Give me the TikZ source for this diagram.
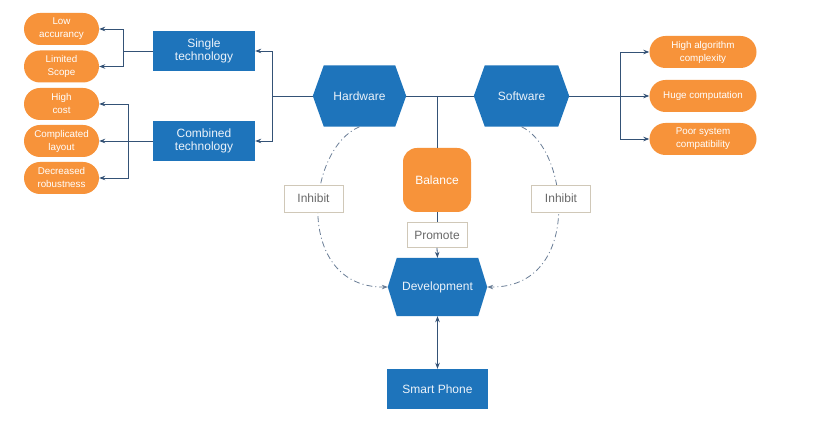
\documentclass[tikz,border=0pt]{standalone}
\usepackage{fontspec}
\setmainfont{Liberation Sans}
\usetikzlibrary{arrows.meta,shapes.misc,backgrounds}
\definecolor{bluebox}{RGB}{30,116,187}
\definecolor{orangebox}{RGB}{247,147,58}
\definecolor{conn}{RGB}{52,82,118}
\definecolor{dashc}{RGB}{105,125,150}
\definecolor{labbord}{RGB}{208,200,184}
\definecolor{labtext}{RGB}{105,105,105}
\definecolor{bluetext}{RGB}{236,243,250}
\newcommand{\hexfill}[2]{%
  \fill[bluebox] (#1.west) -- ([xshift=#2]#1.north west) -- ([xshift=-#2]#1.north east) -- (#1.east) -- ([xshift=-#2]#1.south east) -- ([xshift=#2]#1.south west) -- cycle;}
\tikzset{
  pill/.style={rounded rectangle, fill=orangebox, text=white, minimum width=77pt, minimum height=32pt, inner sep=1pt, align=center, font=\fontsize{9.8}{13}\selectfont},
  rpill/.style={pill, minimum width=109pt},
  bbox/.style={rectangle, fill=bluebox, text=bluetext, minimum width=102pt, minimum height=40pt, inner sep=1pt, align=center, font=\fontsize{12}{13.5}\selectfont},
  hexnode/.style={rectangle, text=bluetext, inner sep=0pt, align=center, font=\fontsize{12}{13.5}\selectfont},
  lab/.style={rectangle, draw=labbord, line width=0.9pt, fill=white, text=labtext, inner sep=1pt, font=\fontsize{12}{13.5}\selectfont},
  line/.style={draw=conn, line width=0.8pt},
  arr/.style={line, -{Stealth[length=6pt,width=4.5pt]}},
  darr/.style={line, {Stealth[length=6pt,width=4.5pt]}-{Stealth[length=6pt,width=4.5pt]}},
  dasharr/.style={draw=dashc, line width=0.8pt, dash pattern=on 6pt off 3pt on 1pt off 3pt, -{Stealth[length=6pt,width=4.5pt]}}
}
\begin{document}
\begin{tikzpicture}[x=1pt,y=-1pt]
\begin{scope}[on background layer]
\fill[white] (0,0) rectangle (831,427);
\end{scope}
\useasboundingbox (0,0) rectangle (831,427);
% left pills
\node[pill] (low) at (61.5,29) {Low\\accurancy};
\node[pill] (limited) at (61.5,66.5) {Limited\\Scope};
\node[pill] (cost) at (61.5,104) {High\\cost};
\node[pill] (layout) at (61.5,141) {Complicated\\layout};
\node[pill] (robust) at (61.5,178) {Decreased\\robustness};
% blue boxes
\node[bbox] (single) at (204,51) {Single\\technology};
\node[bbox] (combined) at (204,141) {Combined\\technology};
% hexagons
\node[hexnode, minimum width=93pt, minimum height=61pt] (hw) at (359.5,96) {Hardware};
\node[hexnode, minimum width=95pt, minimum height=61pt] (sw) at (521.5,96) {Software};
\node[hexnode, minimum width=99pt, minimum height=58pt] (dev) at (437.5,287) {Development};
\begin{scope}[on background layer]
\hexfill{hw}{11pt}
\hexfill{sw}{11pt}
\hexfill{dev}{9pt}
\end{scope}
% balance
\node[rectangle, rounded corners=14pt, fill=orangebox, text=white, minimum width=68pt, minimum height=64pt, font=\fontsize{12}{13.5}\selectfont] (bal) at (437,180) {Balance};
% smart phone
\node[bbox, minimum width=101pt] (phone) at (437.5,389) {Smart Phone};
% right pills
\node[rpill] (alg) at (703,52) {High algorithm\\complexity};
\node[rpill] (huge) at (703,96) {Huge computation};
\node[rpill] (poor) at (703,139) {Poor system\\compatibility};
% connectors left
\draw[line] (hw.west) -- ++(-40,0) coordinate (hj);
\draw[arr] (hj) |- (single.east);
\draw[arr] (hj) |- (combined.east);
\draw[line] (single.west) -- ++(-29,0) coordinate (sj);
\draw[arr] (sj) |- (low.east);
\draw[arr] (sj) |- (limited.east);
\draw[arr] (combined.west) -- (layout.east);
\coordinate (cj) at (128,141);
\draw[arr] (cj) |- (cost.east);
\draw[arr] (cj) |- (robust.east);
% centre
\draw[line] (hw.east) -- (sw.west);
\coordinate (mj) at (437,96);
\draw[line] (mj) -- (bal.north);
% right
\draw[arr] (sw.east) -- (huge.west);
\coordinate (rj) at (620,96);
\draw[arr] (rj) |- (alg.west);
\draw[arr] (rj) |- (poor.west);
% inhibit arcs
\draw[dasharr] (hw.south) .. controls (305,150) and (295,288) .. (dev.west);
\draw[dasharr] (sw.south) .. controls (570,150) and (582,288) .. (dev.east);
\node[lab, minimum width=59pt, minimum height=27pt] (inh1) at (313.5,198.5) {Inhibit};
\node[lab, minimum width=59pt, minimum height=27pt] (inh2) at (561,198.5) {Inhibit};
% promote
\node[lab, minimum width=60pt, minimum height=25pt] (prom) at (437,235) {Promote};
\draw[line] (bal.south) -- (prom.north);
\draw[arr] (prom.south) -- (dev.north);
\draw[darr] (dev.south) -- (phone.north);
\end{tikzpicture}
\end{document}
